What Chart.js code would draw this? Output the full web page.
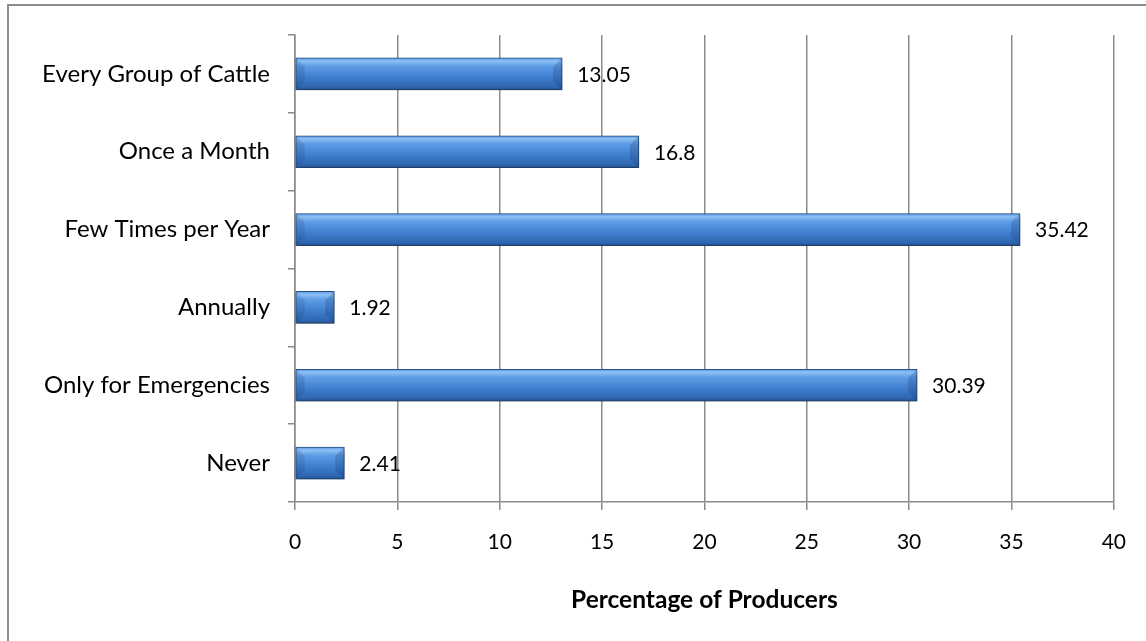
<!DOCTYPE html>
<html>
<head>
<meta charset="utf-8">
<script src="https://cdn.jsdelivr.net/npm/chart.js@4/dist/chart.umd.min.js"></script>
<style>
  html, body { margin: 0; padding: 0; background: #fff; }
  #wrap { width: 1146px; height: 641px; position: relative; }
</style>
</head>
<body>
<div id="wrap"><canvas id="myCanvas"></canvas></div>
<script>
const categories = [
  "Every Group of Cattle",
  "Once a Month",
  "Few Times per Year",
  "Annually",
  "Only for Emergencies",
  "Never"
];
const percentages = [13.05, 16.8, 35.42, 1.92, 30.39, 2.41];
const xTicks = [0, 5, 10, 15, 20, 25, 30, 35, 40];

const FONT = "Lato, 'Open Sans', sans-serif";
const BAR_H = 32;
const gridGray = "#8a8a8a";

// frame around the whole chart (runs off the right and bottom edge)
const frame = {
  id: "frame",
  beforeDraw(chart) {
    const ctx = chart.ctx;
    ctx.save();
    ctx.strokeStyle = "#8c8c8c";
    ctx.lineWidth = 2;
    ctx.strokeRect(8, 5, chart.width + 20, chart.height + 20);
    ctx.restore();
  }
};

// soft drop shadow under the bars
const barShadow = {
  id: "barShadow",
  beforeDatasetsDraw(chart) {
    const ctx = chart.ctx;
    ctx.save();
    ctx.shadowColor = "rgba(0,0,0,0.35)";
    ctx.shadowBlur = 6;
    ctx.shadowOffsetX = 2;
    ctx.shadowOffsetY = 3;
  },
  afterDatasetsDraw(chart) {
    chart.ctx.restore();
  }
};

// bevelled bar ends + value labels
const barLabels = {
  id: "barLabels",
  afterDatasetsDraw(chart) {
    const ctx = chart.ctx;
    const meta = chart.getDatasetMeta(0);
    ctx.save();
    meta.data.forEach((bar, i) => {
      const top = bar.y - BAR_H / 2, bot = bar.y + BAR_H / 2;
      const l = bar.base, r = bar.x;
      const b = Math.min(9, (r - l) / 3);
      ctx.fillStyle = "rgba(20,50,100,0.22)";
      ctx.beginPath();
      ctx.moveTo(r, top); ctx.lineTo(r - b, top + b); ctx.lineTo(r - b, bot - b); ctx.lineTo(r, bot);
      ctx.closePath(); ctx.fill();
      ctx.fillStyle = "rgba(20,50,100,0.15)";
      ctx.beginPath();
      ctx.moveTo(l, top); ctx.lineTo(l + b, top + b); ctx.lineTo(l + b, bot - b); ctx.lineTo(l, bot);
      ctx.closePath(); ctx.fill();

      ctx.fillStyle = "#000";
      ctx.font = "21px " + FONT;
      ctx.textAlign = "left";
      ctx.textBaseline = "middle";
      ctx.fillText(String(percentages[i]), r + 15, bar.y + 1);
    });
    ctx.restore();
  }
};

function barFill(context) {
  const chart = context.chart;
  const y = chart.scales.y;
  if (!y || !chart.chartArea) return "#3f7fcf";
  const c = y.getPixelForValue(context.dataIndex);
  const g = chart.ctx.createLinearGradient(0, c - BAR_H / 2, 0, c + BAR_H / 2);
  g.addColorStop(0, "#5d9be4");
  g.addColorStop(0.1, "#8cc0f2");
  g.addColorStop(0.25, "#5f9de6");
  g.addColorStop(0.6, "#3f7fcf");
  g.addColorStop(0.9, "#2f66b0");
  g.addColorStop(1, "#23508c");
  return g;
}

new Chart(document.getElementById("myCanvas"), {
  type: "bar",
  data: {
    labels: categories,
    datasets: [{
      data: percentages,
      backgroundColor: barFill,
      borderColor: "#2a548c",
      borderWidth: 1,
      borderSkipped: false,
      barThickness: BAR_H
    }]
  },
  options: {
    indexAxis: "y",
    responsive: true,
    maintainAspectRatio: false,
    animation: false,
    layout: { padding: { top: 35, right: 30, bottom: 0, left: 0 } },
    plugins: {
      legend: { display: false },
      tooltip: { enabled: false }
    },
    scales: {
      x: {
        min: 0,
        max: 40,
        afterBuildTicks: (scale) => { scale.ticks = xTicks.map(v => ({ value: v })); },
        afterFit: (scale) => { scale.height = 139; },
        grid: { color: gridGray, lineWidth: 1.5, tickLength: 8 },
        border: { color: gridGray, width: 1.5 },
        ticks: { color: "#000", font: { family: FONT, size: 21 }, padding: 20, maxRotation: 0 },
        title: {
          display: true,
          text: "Percentage of Producers",
          color: "#000",
          font: { family: FONT, size: 24.5, weight: "bold" },
          padding: { top: 14, bottom: 26 }
        }
      },
      y: {
        afterFit: (scale) => { scale.width = 295; },
        grid: { drawOnChartArea: false, color: gridGray, lineWidth: 1.5, tickLength: 7 },
        border: { color: gridGray, width: 1.5 },
        ticks: { color: "#000", font: { family: FONT, size: 24 }, padding: 18 }
      }
    }
  },
  plugins: [frame, barShadow, barLabels]
});
</script>
</body>
</html>
